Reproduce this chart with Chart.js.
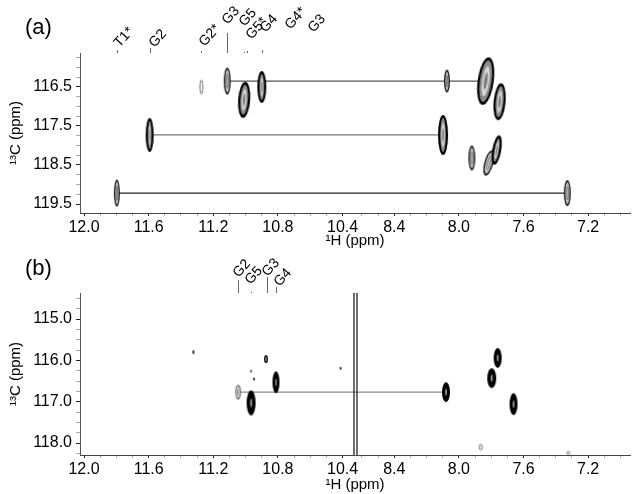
<!DOCTYPE html>
<html>
<head>
<meta charset="utf-8">
<script src="https://cdn.jsdelivr.net/npm/chart.js@4.4.1/dist/chart.umd.min.js"></script>
<style>
  html, body { margin: 0; padding: 0; background: #fff; }
  #wrap { position: relative; width: 635px; height: 494px; }
  #wrap canvas { position: absolute; left: 0; }
</style>
</head>
<body>
<div id="wrap">
  <canvas id="chartA" width="635" height="250" style="top:0"></canvas>
  <canvas id="chartB" width="635" height="244" style="top:250px"></canvas>
</div>
<script>
// ---------- data ----------
// 1H axis (ppm), broken between 10.4 and 8.4
const xTickPpm    = [12.0, 11.6, 11.2, 10.8, 10.4, 8.4, 8.0, 7.6, 7.2];
const xTickLabels = ['12.0', '11.6', '11.2', '10.8', '10.4', '8.4', '8.0', '7.6', '7.2'];

// panel (a)
const aYTicks = [116.5, 117.5, 118.5, 119.5];
const aPeakH  = [11.797, 11.594, 11.274, 11.114, 11.009, 10.900, 8.098, 8.074, 7.920, 7.834, 7.815, 7.766, 7.748, 7.329];
const aPeakC  = [119.22, 117.73, 116.50, 116.35, 116.83, 116.50, 117.73, 116.35, 118.32, 116.35, 118.45, 118.12, 116.88, 119.22];
const aLinkC    = [116.35, 117.73, 119.22];
const aLinkFrom = [11.114, 11.594, 11.797];
const aLinkTo   = [7.834, 8.098, 7.329];
const aLabelNames = ['T1*', 'G2', 'G2*', 'G3', 'G5', 'G5*', 'G4', 'G4*', 'G3'];
const aLabelPpm   = [11.797, 11.594, 11.274, 11.114, 11.009, 10.990, 10.900, 10.732, 10.590];

// panel (b)
const bYTicks = [115.0, 116.0, 117.0, 118.0];
const bPeakH  = [11.323, 11.046, 10.966, 10.948, 10.966, 10.874, 10.812, 10.412, 8.080, 7.865, 7.797, 7.760, 7.662, 7.323];
const bPeakC  = [115.80, 116.77, 117.03, 116.45, 116.26, 115.97, 116.53, 116.19, 116.77, 118.10, 116.43, 115.94, 117.06, 118.24];
const bLinkC    = [116.77];
const bLinkFrom = [11.046];
const bLinkTo   = [8.080];
const bLabelNames = ['G2', 'G5', 'G3', 'G4'];
const bLabelPpm   = [11.046, 10.966, 10.868, 10.812];

// ---------- styles ----------
// peak contour sprites: [width px, height px, kind, rotation deg]
const aPeakStyle = [
  [6, 27, 'medium', 0], [8, 34, 'strong', 0], [3, 14, 'faint', 0], [7, 27, 'medium', 0],
  [12, 36, 'strong', 4], [9, 32, 'strong', 0], [10, 40, 'strong', 0], [6, 23, 'medium', 0],
  [7, 25, 'medium', 0], [16, 48, 'strong', 8], [9, 26, 'medium', 15], [9, 30, 'strong', 10],
  [12, 37, 'strong', 5], [7, 26, 'medium', 0]
];
const bPeakStyle = [
  [2, 4, 'dot', 0], [6, 15, 'grey', 0], [9, 25, 'solid', 0], [2, 3, 'dot', 0],
  [1.5, 3, 'dot', 0], [4, 8, 'medium', 0], [7, 22, 'solid', 0], [2, 3, 'dot', 0],
  [8, 20, 'solid', 0], [3, 6, 'faint', 0], [9, 20, 'solid', 0], [8, 20, 'solid', 0],
  [8, 22, 'solid', 0], [3, 3, 'faint', 0]
];
const aLinkColors = ['#555', '#777', '#222'];
const bLinkColors = ['#888'];
// label placement: [dx px, rise above plot px, tick length px]
const aLabelStyle = [[4, 5, 3], [6, 5, 5], [5, 6, 2], [2, 28, 20], [2, 26, 1], [6, 13, 2], [5, 20, 3], [3, 23, 0], [3, 20, 0]];
const bLabelStyle = [[2, 15, 13], [1, 8, 1], [2, 16, 16], [5, 6, 6]];

const FONT = '"Liberation Sans", Arial, sans-serif';
Chart.defaults.font.family = FONT;
Chart.defaults.color = '#000';

const X_GAP = 1.68;                       // ppm cut out by the axis break
const u = p => (p > 9.5 ? p - X_GAP : p); // ppm -> continuous axis value
const X_MIN = 6.941, X_MAX = 10.345;
const BREAK_U = 8.64;

const xMajor = xTickPpm.map(u);
const xMinor = [];
for (let p = 120; p >= 104; p--) xMinor.push(u(p / 10));
for (let p = 86; p >= 70; p--) xMinor.push(p / 10);

function makeSprite(w, h, kind) {
  const c = document.createElement('canvas');
  c.width = Math.ceil(w) + 4;
  c.height = Math.ceil(h) + 4;
  const g = c.getContext('2d');
  const cx = c.width / 2, cy = c.height / 2;
  const rx = w / 2, ry = h / 2;
  const ell = (a, b) => { g.beginPath(); g.ellipse(cx, cy, Math.max(a, 0.4), Math.max(b, 0.4), 0, 0, Math.PI * 2); };
  const fill = col => { g.fillStyle = col; g.fill(); };
  if (kind === 'dot') {
    ell(rx, ry); fill('#222');
  } else if (kind === 'faint') {
    ell(rx, ry); fill('#f2f2f2'); g.strokeStyle = '#777'; g.lineWidth = 1; g.stroke();
  } else if (kind === 'grey') {
    ell(rx, ry); fill('#777'); ell(rx - 1.2, ry - 2); fill('#d8d8d8');
    ell(rx * 0.3, ry * 0.5); fill('#999');
  } else if (kind === 'medium') {
    ell(rx, ry); fill('#1a1a1a'); ell(rx - 1.4, ry - 2); fill('#c4c4c4');
    ell((rx - 1.4) * 0.45, (ry - 2) * 0.6); g.strokeStyle = '#666'; g.lineWidth = 0.8; g.stroke();
  } else if (kind === 'strong') {
    ell(rx, ry); fill('#000'); ell(rx - 2.2, ry - 3); fill('#8c8c8c');
    ell((rx - 2.2) * 0.6, (ry - 3) * 0.72); fill('#d4d4d4');
    ell((rx - 2.2) * 0.28, (ry - 3) * 0.4); fill('#7a7a7a');
  } else { // solid
    ell(rx, ry); fill('#000'); ell(rx * 0.2, ry * 0.35); fill('#aaa');
  }
  return c;
}

function buildTicks(major, minor) {
  return major.map(v => ({ value: v, minor: false }))
    .concat(minor.filter(v => !major.some(m => Math.abs(m - v) < 1e-6)).map(v => ({ value: v, minor: true })));
}

function decorPlugin(letter, letterY, names, ppm, style, drawBreak) {
  return {
    id: 'decor',
    afterDraw(chart) {
      const { ctx, chartArea } = chart;
      const xs = chart.scales.x;
      ctx.save();
      ctx.fillStyle = '#000';
      ctx.font = '22px ' + FONT;
      ctx.textBaseline = 'middle';
      ctx.textAlign = 'left';
      ctx.fillText(letter, 25, letterY);

      ctx.font = '14px ' + FONT;
      ctx.textBaseline = 'alphabetic';
      names.forEach((name, i) => {
        const [dx, rise, tick] = style[i];
        const px = Math.round(xs.getPixelForValue(u(ppm[i]))) + 0.5;
        if (tick > 0) {
          ctx.strokeStyle = '#666';
          ctx.lineWidth = 1;
          ctx.beginPath();
          ctx.moveTo(px, chartArea.top);
          ctx.lineTo(px, chartArea.top - tick);
          ctx.stroke();
        }
        ctx.save();
        ctx.translate(px + dx - 2, chartArea.top - rise);
        ctx.rotate(-48 * Math.PI / 180);
        ctx.fillText(name, 0, 0);
        ctx.restore();
      });

      if (drawBreak) {
        const bx = xs.getPixelForValue(BREAK_U);
        ctx.strokeStyle = '#222';
        ctx.lineWidth = 1.3;
        [-1.5, 1.5].forEach(o => {
          ctx.beginPath();
          ctx.moveTo(bx + o, chartArea.top);
          ctx.lineTo(bx + o, chartArea.bottom);
          ctx.stroke();
        });
      }
      ctx.restore();
    }
  };
}

function buildChart(id, o) {
  const sprites = o.peakStyle.map(s => makeSprite(s[0], s[1], s[2]));
  const datasets = o.linkC.map((c, i) => ({
    data: [{ x: u(o.linkFrom[i]), y: c }, { x: u(o.linkTo[i]), y: c }],
    showLine: true,
    borderColor: o.linkColors[i],
    borderWidth: 1.2,
    pointRadius: 0,
    order: 2
  }));
  datasets.push({
    data: o.peakH.map((h, i) => ({ x: u(h), y: o.peakC[i] })),
    showLine: false,
    pointRadius: 3,
    pointStyle: c => sprites[c.dataIndex],
    rotation: c => o.peakStyle[c.dataIndex][3],
    order: 1
  });

  const yMinor = [];
  for (let v = Math.ceil(o.yMin * 4) / 4; v <= o.yMax; v += 0.25) yMinor.push(v);

  return new Chart(document.getElementById(id), {
    type: 'scatter',
    data: { datasets },
    options: {
      responsive: false,
      animation: false,
      devicePixelRatio: 1,
      events: [],
      layout: { padding: { top: o.top, right: 2, left: 0, bottom: 0 } },
      plugins: { legend: { display: false }, tooltip: { enabled: false } },
      scales: {
        x: {
          type: 'linear',
          reverse: true,
          min: X_MIN,
          max: X_MAX,
          afterBuildTicks: s => { s.ticks = buildTicks(xMajor, xMinor); },
          afterFit: s => { s.height = o.xAxisH; },
          grid: {
            drawOnChartArea: false,
            drawTicks: true,
            tickLength: 3,
            tickColor: c => (c.tick && c.tick.minor ? '#aaa' : '#222')
          },
          border: { display: true, color: '#444', width: 1, dash: [1, 2] },
          ticks: {
            autoSkip: false,
            maxRotation: 0,
            minRotation: 0,
            padding: 2,
            font: { size: 16 },
            callback: v => {
              const i = xMajor.findIndex(m => Math.abs(m - v) < 1e-6);
              return i >= 0 ? xTickLabels[i] : '';
            }
          },
          title: { display: true, text: '¹H (ppm)', font: { size: 15 }, padding: { top: 0, bottom: 0 } }
        },
        y: {
          type: 'linear',
          reverse: true,
          min: o.yMin,
          max: o.yMax,
          afterBuildTicks: s => { s.ticks = buildTicks(o.yTicks, yMinor); },
          afterFit: s => { s.width = 80; },
          grid: {
            drawOnChartArea: false,
            drawTicks: true,
            tickLength: 4,
            tickColor: c => (c.tick && c.tick.minor ? '#aaa' : '#222')
          },
          border: { display: true, color: '#555', width: 1, dash: [1, 2] },
          ticks: {
            autoSkip: false,
            padding: 4,
            font: { size: 16 },
            callback: v => (o.yTicks.some(m => Math.abs(m - v) < 1e-6) ? v.toFixed(1) : '')
          },
          title: { display: true, text: '¹³C (ppm)', font: { size: 15 }, padding: { top: 7, bottom: 0 } }
        }
      }
    },
    plugins: [decorPlugin(o.letter, o.letterY, o.labelNames, o.labelPpm, o.labelStyle, o.drawBreak)]
  });
}

buildChart('chartA', {
  top: 53, xAxisH: 37, yMin: 115.63, yMax: 119.73, yTicks: aYTicks,
  peakH: aPeakH, peakC: aPeakC, peakStyle: aPeakStyle,
  linkC: aLinkC, linkFrom: aLinkFrom, linkTo: aLinkTo, linkColors: aLinkColors,
  labelNames: aLabelNames, labelPpm: aLabelPpm, labelStyle: aLabelStyle,
  letter: '(a)', letterY: 28, drawBreak: false
});

buildChart('chartB', {
  top: 43, xAxisH: 39, yMin: 114.37, yMax: 118.29, yTicks: bYTicks,
  peakH: bPeakH, peakC: bPeakC, peakStyle: bPeakStyle,
  linkC: bLinkC, linkFrom: bLinkFrom, linkTo: bLinkTo, linkColors: bLinkColors,
  labelNames: bLabelNames, labelPpm: bLabelPpm, labelStyle: bLabelStyle,
  letter: '(b)', letterY: 19, drawBreak: true
});
</script>
</body>
</html>
